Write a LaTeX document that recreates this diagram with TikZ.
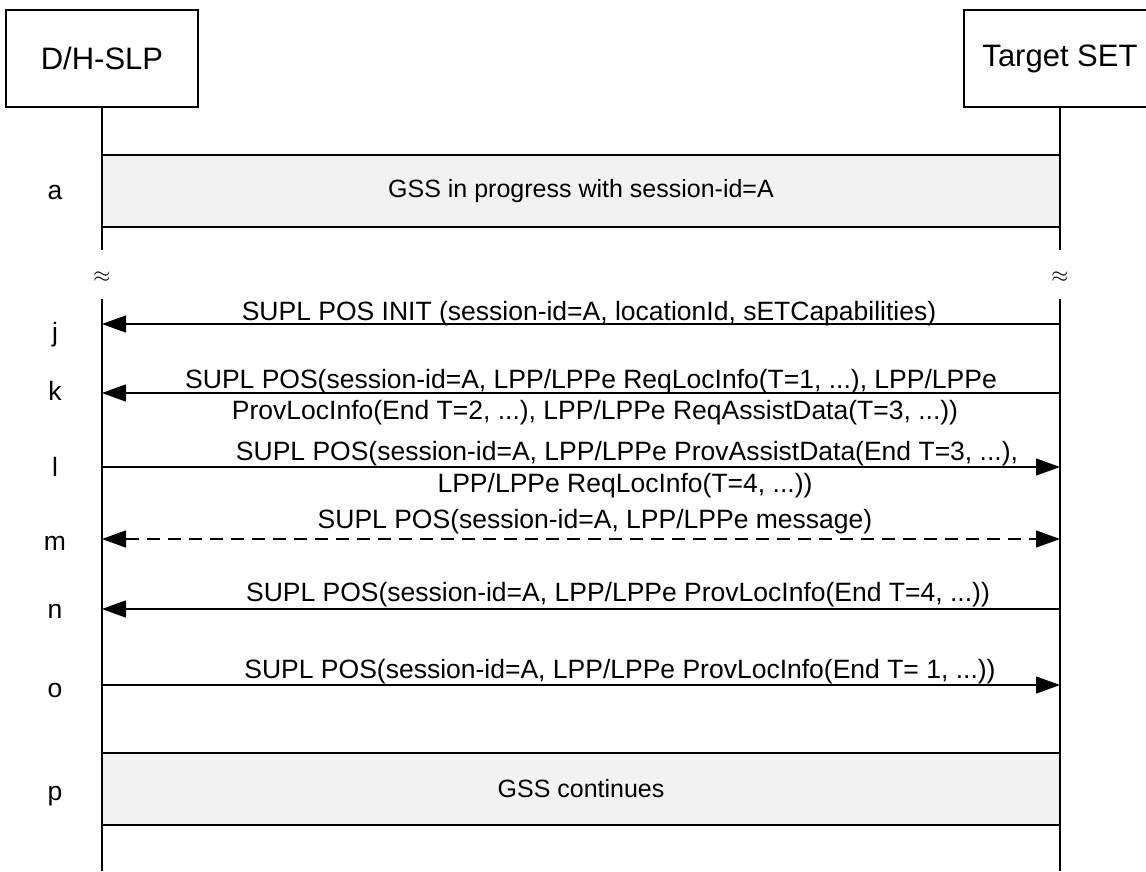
\documentclass[tikz,border=0pt]{standalone}
\usepackage{fontspec}
\setmainfont{Liberation Sans}
\usetikzlibrary{arrows.meta, positioning}

\tikzset{
  entity/.style={draw, line width=1.2pt, minimum width=192pt, minimum height=97pt,
                 font=\fontsize{31}{36}\selectfont},
  phase/.style={draw, line width=1.5pt, fill=gray!10, minimum width=958pt,
                minimum height=72pt, font=\fontsize{25}{30}\selectfont},
  lifeline/.style={line width=1.5pt},
  msg/.style={line width=1.5pt, -{Triangle[length=24pt,width=17pt]}},
  msgtxt/.style={anchor=base, inner sep=0pt, font=\fontsize{26.5}{30}\selectfont},
  steplbl/.style={anchor=base, inner sep=0pt, font=\fontsize{26.5}{30}\selectfont},
  gap/.style={inner sep=0pt},
}

\begin{document}
\begin{tikzpicture}[x=1pt,y=-1pt]
  \useasboundingbox (0,0) rectangle (1146,871);

  % the two parties
  \node[entity] (slp) at (102,58.5) {D/H-SLP};
  \node[entity] (set) at (1060,58.5) {Target SET};

  % lifelines, broken where time is skipped
  \coordinate (slp-brk) at (102,250);
  \coordinate (slp-res) at (102,299);
  \coordinate (slp-end) at (102,871);
  \coordinate (set-brk) at (1060,250);
  \coordinate (set-res) at (1060,299);
  \coordinate (set-end) at (1060,871);
  \draw[lifeline] (slp.south) -- (slp-brk) (slp-res) -- (slp-end);
  \draw[lifeline] (set.south) -- (set-brk) (set-res) -- (set-end);
  \node[gap] (slp-gap) at (102,277) {\scalebox{2.2}{$\approx$}};
  \node[gap] (set-gap) at (1060,277) {\scalebox{2.2}{$\approx$}};

  % session phases
  \node[phase] (gssA) at (581,191) {GSS in progress with session-id=A};
  \node[phase] (gssP) at (581,789) {GSS continues};

  % end points of the messages on both lifelines
  \foreach \m/\y in {j/324,k/393,l/467,m/539,n/609,o/685}{
    \coordinate (\m-slp) at (102,\y);
    \coordinate (\m-set) at (1060,\y);
  }

  % step letters
  \foreach \s/\y in {a/199,j/341,k/400,l/476,m/550,n/618,o/697,p/800}
    \node[steplbl] (step-\s) at (55,\y) {\s};

  % messages
  \draw[msg] (j-set) -- (j-slp);
  \node[msgtxt] (j-txt) at (589,320) {SUPL POS INIT (session-id=A, locationId, sETCapabilities)};

  \draw[msg] (k-set) -- (k-slp);
  \node[msgtxt] (k-txt1) at (591,388) {SUPL POS(session-id=A, LPP/LPPe ReqLocInfo(T=1, ...), LPP/LPPe};
  \node[msgtxt] (k-txt2) at (595,419) {ProvLocInfo(End T=2, ...), LPP/LPPe ReqAssistData(T=3, ...))};

  \draw[msg] (l-slp) -- (l-set);
  \node[msgtxt] (l-txt1) at (627,460) {SUPL POS(session-id=A, LPP/LPPe ProvAssistData(End T=3, ...),};
  \node[msgtxt] (l-txt2) at (625,492) {LPP/LPPe ReqLocInfo(T=4, ...))};

  \draw[msg, {Triangle[length=24pt,width=17pt]}-{Triangle[length=24pt,width=17pt]},
        dash pattern=on 13pt off 8pt] (m-slp) -- (m-set);
  \node[msgtxt] (m-txt) at (595,528) {SUPL POS(session-id=A, LPP/LPPe message)};

  \draw[msg] (n-set) -- (n-slp);
  \node[msgtxt] (n-txt) at (618,601) {SUPL POS(session-id=A, LPP/LPPe ProvLocInfo(End T=4, ...))};

  \draw[msg] (o-slp) -- (o-set);
  \node[msgtxt] (o-txt) at (620,678) {SUPL POS(session-id=A, LPP/LPPe ProvLocInfo(End T= 1, ...))};
\end{tikzpicture}
\end{document}
